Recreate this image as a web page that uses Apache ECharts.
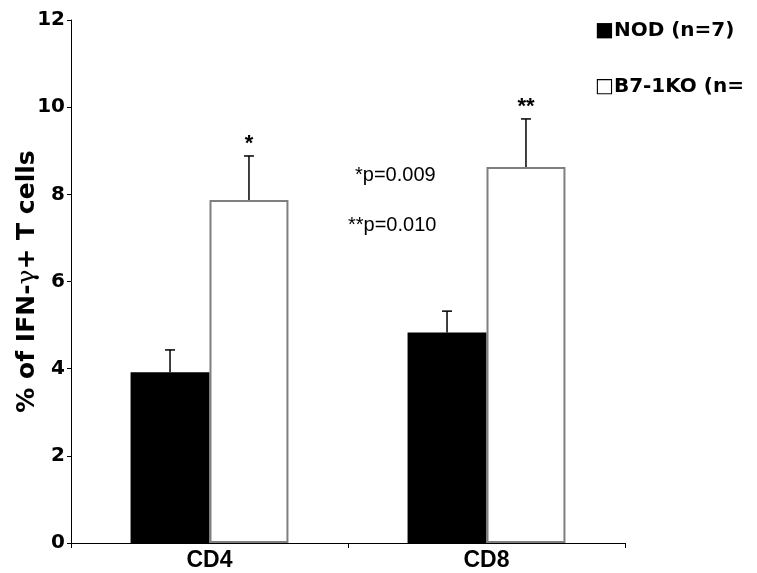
<!DOCTYPE html>
<html>
<head>
<meta charset="utf-8">
<script src="https://cdn.jsdelivr.net/npm/echarts@6/dist/echarts.min.js"></script>
<style>html,body{margin:0;padding:0;background:#fff;}#c{width:757px;height:573px;}</style>
</head>
<body>
<div id="c"></div>
<script>
var categories = ['CD4', 'CD8'];
var nodValues = [3.92, 4.83];
var nodErrTop = [4.43, 5.32];
var koValues = [7.87, 8.63];
var koErrTop = [8.88, 9.73];
var sigMarks = ['*', '**'];
var seriesNames = ['NOD (n=7)', 'B7-1KO (n='];
var pTexts = ['*p=0.009', '**p=0.010'];

var BAR_FRAC = 0.285;

function errRender(offsetSign, showSig) {
  return function (params, api) {
    var idx = api.value(0);
    var top = api.value(1);
    var base = api.value(2);
    var catW = api.size([1, 0])[0];
    var bw = catW * BAR_FRAC;
    var c0 = api.coord([idx, base]);
    var c1 = api.coord([idx, top]);
    var x = c0[0] + offsetSign * bw / 2;
    var children = [
      {type: 'line', shape: {x1: x, y1: c0[1], x2: x, y2: c1[1]}, style: {stroke: '#000', lineWidth: 1.5}},
      {type: 'line', shape: {x1: x - 5, y1: c1[1], x2: x + 5, y2: c1[1]}, style: {stroke: '#000', lineWidth: 1.5}}
    ];
    if (showSig) {
      children.push({type: 'text', style: {text: sigMarks[idx], x: x, y: c1[1] - 1, textAlign: 'center', textVerticalAlign: 'bottom', font: 'bold 22px "Liberation Sans", Arial, sans-serif', fill: '#000'}});
    }
    return {type: 'group', children: children};
  };
}

var chart = echarts.init(document.getElementById('c'), null, {renderer: 'canvas'});
chart.setOption({
  animation: false,
  backgroundColor: '#fff',
  grid: {left: 71, right: 132, top: 20, bottom: 30},
  xAxis: {
    type: 'category',
    data: categories,
    axisLine: {lineStyle: {color: '#000', width: 1}},
    axisTick: {show: true, length: 5, interval: 0, lineStyle: {color: '#000'}},
    axisLabel: {margin: 6, color: '#000', fontSize: 23, fontWeight: 'bold', fontFamily: '"Liberation Sans Narrow", "Arial Narrow", "Liberation Sans", sans-serif'}
  },
  yAxis: {
    type: 'value',
    min: 0, max: 12, interval: 2,
    name: '% of IFN-{g|γ}+ T cells',
    nameLocation: 'middle',
    nameGap: 31,
    nameMoveOverlap: false,
    nameTextStyle: {color: '#000', fontSize: 25, fontWeight: 'bold', fontFamily: '"DejaVu Sans", Verdana, sans-serif',
      rich: {g: {fontSize: 25, fontWeight: 'normal', fontFamily: '"DejaVu Serif", serif', color: '#000'}}},
    axisLine: {show: true, lineStyle: {color: '#000', width: 1}},
    axisTick: {show: true, length: 4, lineStyle: {color: '#000'}},
    axisLabel: {margin: 6, color: '#000', fontSize: 20, fontWeight: 'bold', fontFamily: '"DejaVu Sans", Verdana, sans-serif'},
    splitLine: {show: false}
  },
  series: [
    {name: seriesNames[0], type: 'bar', data: nodValues, barWidth: (BAR_FRAC * 100) + '%', barGap: '0%',
      itemStyle: {color: '#000'}},
    {name: seriesNames[1], type: 'bar', data: koValues, barWidth: (BAR_FRAC * 100) + '%',
      itemStyle: {color: '#fff', borderColor: '#7f7f7f', borderWidth: 2}},
    {type: 'custom', renderItem: errRender(-1, false), z: 5,
      data: categories.map(function (c, i) { return [i, nodErrTop[i], nodValues[i]]; })},
    {type: 'custom', renderItem: errRender(1, true), z: 5,
      data: categories.map(function (c, i) { return [i, koErrTop[i], koValues[i]]; })}
  ],
  graphic: [
    {type: 'text', left: 595, top: 21, style: {text: '■' + seriesNames[0], font: 'bold 20px "DejaVu Sans", Verdana, sans-serif', fill: '#000'}},
    {type: 'text', left: 595, top: 77, style: {text: '□' + seriesNames[1], font: 'bold 20px "DejaVu Sans", Verdana, sans-serif', fill: '#000'}},
    {type: 'text', left: 355, top: 165, style: {text: pTexts[0], font: '20px "Liberation Sans", Arial, sans-serif', fill: '#000'}},
    {type: 'text', left: 348, top: 215, style: {text: pTexts[1], font: '20px "Liberation Sans", Arial, sans-serif', fill: '#000'}}
  ]
});
</script>
</body>
</html>
